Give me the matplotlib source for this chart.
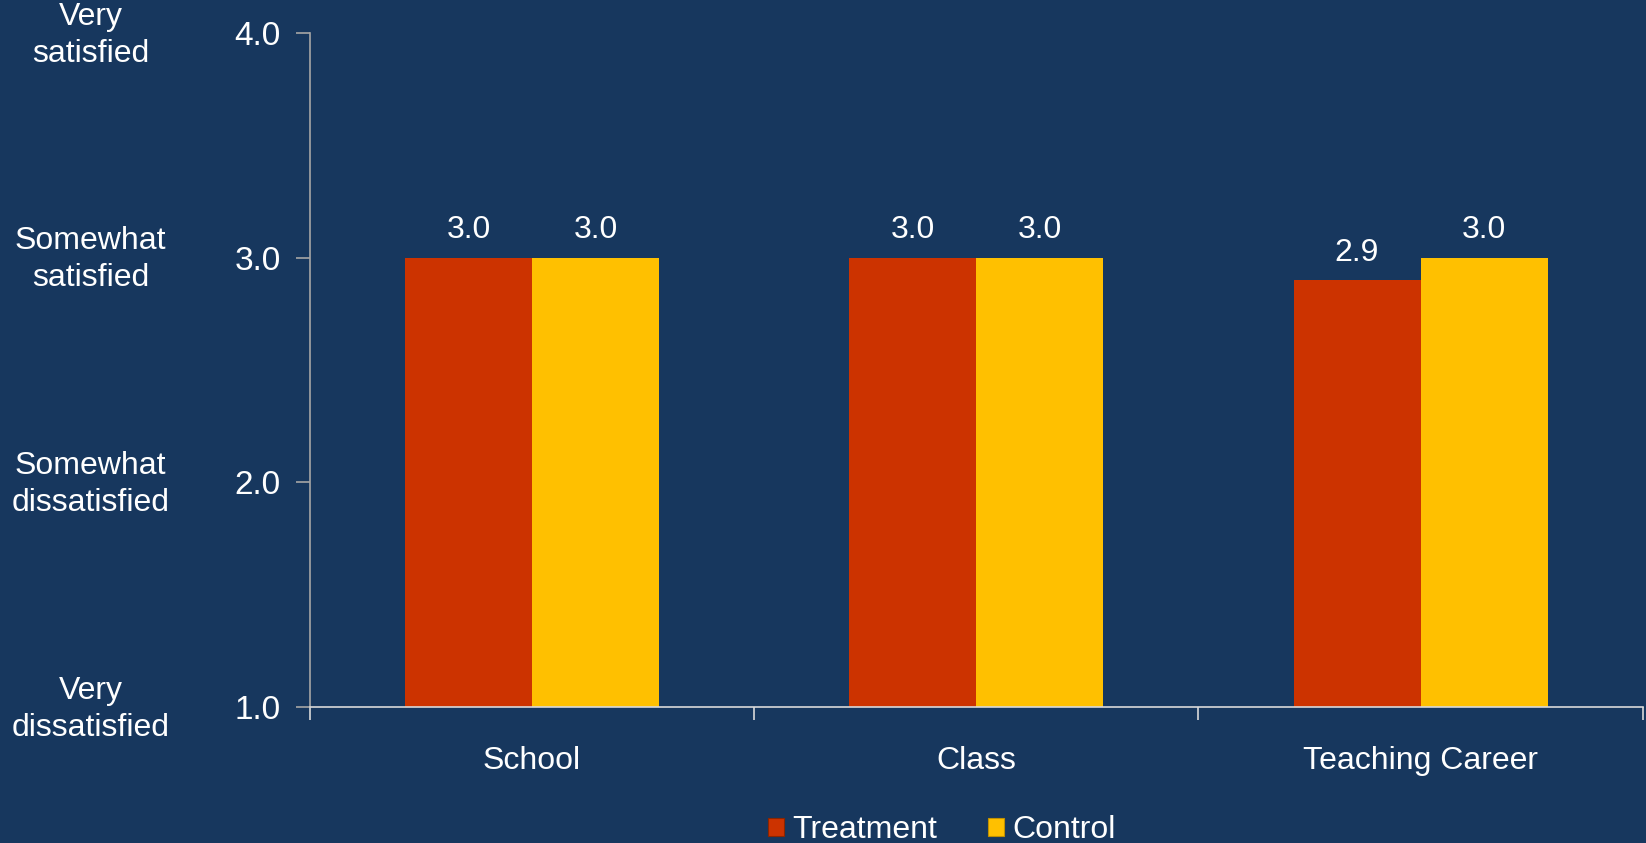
import matplotlib.pyplot as plt
from matplotlib.patches import Patch
from matplotlib.transforms import blended_transform_factory
import numpy as np

plt.rcParams['font.family'] = ['Liberation Sans', 'DejaVu Sans']

BG = '#17375E'
RED = '#CC3300'
YELLOW = '#FFC000'
AXIS_GRAY = '#A6A6A6'
FS = 23

# satisfaction means per area
categories = ['School', 'Class', 'Teaching Career']
treatment = [3.0, 3.0, 2.9]
control = [3.0, 3.0, 3.0]
y_ticks = [1.0, 2.0, 3.0, 4.0]
scale_labels = ['Very\ndissatisfied', 'Somewhat\ndissatisfied',
                'Somewhat\nsatisfied', 'Very\nsatisfied']

fig = plt.figure(figsize=(16.46, 8.43), dpi=100, facecolor=BG)
ax = fig.add_axes([0.1883, 0.1613, 0.8097, 0.7996], facecolor=BG)

x = np.arange(len(categories))
w = 0.286
b1 = ax.bar(x - w / 2, np.array(treatment) - 1.0, w, bottom=1.0, color=RED, label='Treatment')
b2 = ax.bar(x + w / 2, np.array(control) - 1.0, w, bottom=1.0, color=YELLOW, label='Control')

# value labels above each bar
for bars, vals in ((b1, treatment), (b2, control)):
    for rect, v in zip(bars, vals):
        ax.annotate(f'{v:.1f}', (rect.get_x() + rect.get_width() / 2, v),
                    xytext=(0, 9), textcoords='offset points',
                    ha='center', va='bottom', color='white', fontsize=FS)

ax.set_xlim(-0.5, 2.5)
ax.set_ylim(1.0, 4.0)

ax.set_yticks(y_ticks)
ax.set_yticklabels([f'{t:.1f}' for t in y_ticks])
ax.tick_params(axis='y', colors=AXIS_GRAY, labelcolor='white', labelsize=24,
               length=10, width=1.2, pad=11, direction='out')

# category labels on major ticks, separators on minor ticks
ax.set_xticks(x)
ax.set_xticklabels(categories)
ax.set_xticks([-0.5, 0.5, 1.5, 2.5], minor=True)
ax.tick_params(axis='x', which='major', length=0, labelcolor='white', labelsize=FS, pad=28)
ax.tick_params(axis='x', which='minor', length=9, width=1.2, colors='#D9D9D9', direction='out')

for side in ('top', 'right'):
    ax.spines[side].set_visible(False)
ax.spines['left'].set_color(AXIS_GRAY)
ax.spines['left'].set_linewidth(1.2)
ax.spines['bottom'].set_color('#D9D9D9')
ax.spines['bottom'].set_linewidth(1.2)

# verbal scale next to the numeric ticks
trans = blended_transform_factory(fig.transFigure, ax.transData)
for t, lab in zip(y_ticks, scale_labels):
    ax.text(0.055, t - 0.01, lab, transform=trans, ha='center', va='center',
            color='white', fontsize=FS, linespacing=1.3, clip_on=False)

handles = [Patch(facecolor=RED, edgecolor='#8B2500', linewidth=0.8, label='Treatment'),
           Patch(facecolor=YELLOW, edgecolor='#C09000', linewidth=0.8, label='Control')]
fig.legend(handles=handles, loc='center', bbox_to_anchor=(942 / 1646, 1 - 830 / 843),
           ncol=2, frameon=False, fontsize=FS, labelcolor='white',
           handlelength=0.5, handleheight=0.5, handletextpad=0.25, columnspacing=1.6)

fig.savefig('out.png', dpi=100, facecolor=BG)
